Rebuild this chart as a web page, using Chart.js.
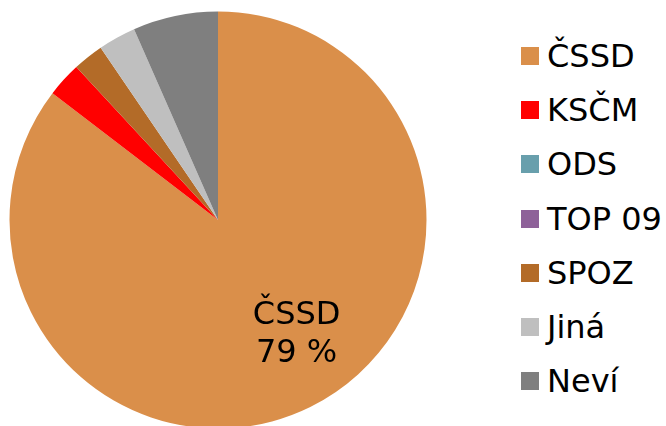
<!DOCTYPE html>
<html>
<head>
<meta charset="utf-8">
<script src="https://cdn.jsdelivr.net/npm/chart.js@4/dist/chart.umd.min.js"></script>
<style>
  body { margin: 0; background: #fff; }
  #wrap { position: relative; width: 666px; height: 426px; overflow: hidden; font-family: "DejaVu Sans", Verdana, sans-serif; }
  #pie { position: absolute; left: 0; top: 0; }
  #legend { position: absolute; left: 521px; top: 29px; }
  .item { display: flex; align-items: center; height: 54.2px; font-size: 32px; color: #000; white-space: nowrap; }
  .box { width: 18px; height: 18px; margin-right: 8px; flex: none; }
</style>
</head>
<body>
<div id="wrap">
  <canvas id="pie" width="436" height="430"></canvas>
  <div id="legend"></div>
</div>
<script>
var parties = ['ČSSD', 'KSČM', 'ODS', 'TOP 09', 'SPOZ', 'Jiná', 'Neví'];
var shares = [79, 2.5, 0, 0, 2.2, 2.7, 6.1];
var colors = ['#DA8F4A', '#FF0000', '#689FAC', '#8E6199', '#B36B28', '#BFBFBF', '#7F7F7F'];

// label inside the big slice
var sliceLabel = {
  id: 'sliceLabel',
  afterDatasetsDraw: function(chart) {
    var arc = chart.getDatasetMeta(0).data[0];
    var ctx = chart.ctx;
    var x = arc.x + arc.outerRadius * 0.377;
    var y = arc.y + arc.outerRadius * 0.55;
    ctx.save();
    ctx.font = '32px "DejaVu Sans"';
    ctx.fillStyle = '#000';
    ctx.textAlign = 'center';
    ctx.textBaseline = 'middle';
    ctx.fillText(parties[0], x, y - 19);
    ctx.fillText(shares[0] + ' %', x, y + 19);
    ctx.restore();
  }
};

new Chart(document.getElementById('pie').getContext('2d'), {
  type: 'pie',
  data: {
    labels: parties,
    datasets: [{
      data: shares,
      backgroundColor: colors,
      borderWidth: 0
    }]
  },
  options: {
    responsive: false,
    animation: false,
    radius: 208.5,
    layout: { padding: { top: 10, bottom: 0 } },
    plugins: {
      legend: { display: false },
      tooltip: { enabled: false }
    }
  },
  plugins: [sliceLabel]
});

var legend = document.getElementById('legend');
parties.forEach(function(name, i) {
  var row = document.createElement('div');
  row.className = 'item';
  var box = document.createElement('span');
  box.className = 'box';
  box.style.background = colors[i];
  row.appendChild(box);
  row.appendChild(document.createTextNode(name));
  legend.appendChild(row);
});
</script>
</body>
</html>
